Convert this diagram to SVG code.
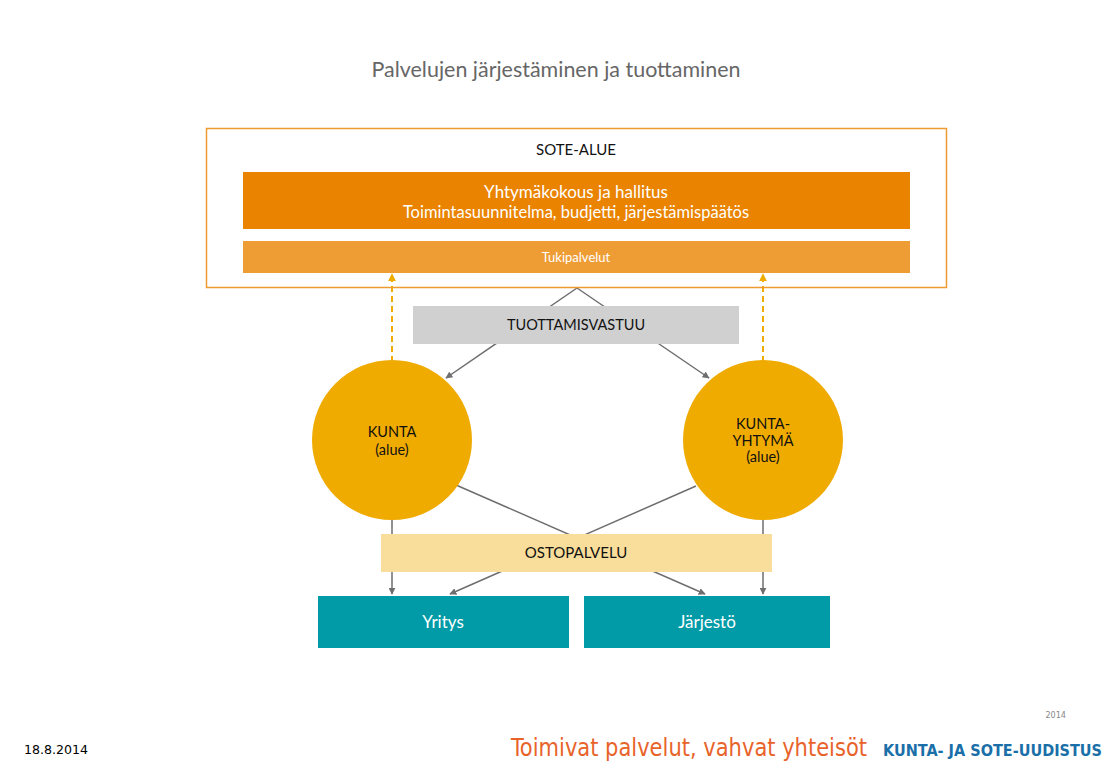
<svg xmlns="http://www.w3.org/2000/svg" width="1116" height="775" viewBox="0 0 1116 775">
<defs>
<style>
.t{font-family:Lato,"Open Sans","Liberation Sans",sans-serif;text-anchor:middle}
.ln{stroke:#6E6E6E;stroke-width:1.5;fill:none}
.dash{stroke:#F0AB00;stroke-width:2;stroke-dasharray:6,4;fill:none}
</style>
<marker id="ag" viewBox="0 0 10 10" refX="9" refY="5" markerWidth="7" markerHeight="7" markerUnits="userSpaceOnUse" orient="auto"><path d="M0,0 L10,5 L0,10 z" fill="#6E6E6E"/></marker>
<marker id="ao" viewBox="0 0 10 10" refX="9" refY="5" markerWidth="8" markerHeight="8" markerUnits="userSpaceOnUse" orient="auto"><path d="M0,0 L10,5 L0,10 z" fill="#F0AB00"/></marker>
</defs>
<rect width="1116" height="775" fill="#FFFFFF"/>
<text class="t" x="556" y="77" font-size="21" fill="#666666" textLength="369" lengthAdjust="spacingAndGlyphs">Palvelujen järjestäminen ja tuottaminen</text>

<g id="connectors">
<line class="ln" x1="577" y1="288" x2="446" y2="378" marker-end="url(#ag)"/>
<line class="ln" x1="577" y1="288" x2="709" y2="378" marker-end="url(#ag)"/>
<line class="ln" x1="456" y1="485" x2="705" y2="594" marker-end="url(#ag)"/>
<line class="ln" x1="696" y1="486" x2="450" y2="594" marker-end="url(#ag)"/>
<line class="ln" x1="392" y1="515" x2="392" y2="594" marker-end="url(#ag)"/>
<line class="ln" x1="763" y1="515" x2="763" y2="594" marker-end="url(#ag)"/>
<line class="dash" x1="392" y1="362" x2="392" y2="274" marker-end="url(#ao)"/>
<line class="dash" x1="763" y1="362" x2="763" y2="274" marker-end="url(#ao)"/>
</g>

<g id="sote-alue">
<rect x="206.5" y="128.5" width="740" height="159" fill="none" stroke="#EE9A32" stroke-width="1.5"/>
<text class="t" x="576" y="155" font-size="15" fill="#111111">SOTE-ALUE</text>
</g>
<g id="yhtymakokous">
<rect x="243" y="172" width="667" height="57" fill="#E98300"/>
<text class="t" x="576" y="198" font-size="17" fill="#FFFFFF">Yhtymäkokous ja hallitus</text>
<text class="t" x="576" y="218" font-size="16.5" fill="#FFFFFF">Toimintasuunnitelma, budjetti, järjestämispäätös</text>
</g>
<g id="tukipalvelut">
<rect x="243" y="241" width="667" height="32" fill="#EE9D35"/>
<text class="t" x="576" y="262" font-size="13" fill="#FFFFFF">Tukipalvelut</text>
</g>
<g id="tuottamisvastuu">
<rect x="413" y="306" width="326" height="38" fill="#D0D0D0"/>
<text class="t" x="576" y="330" font-size="14.5" fill="#111111">TUOTTAMISVASTUU</text>
</g>
<g id="kunta">
<circle cx="392" cy="440" r="80" fill="#F0AB00"/>
<text class="t" x="392" y="437" font-size="14.5" fill="#111111">KUNTA</text>
<text class="t" x="392" y="455" font-size="14.5" fill="#111111">(alue)</text>
</g>
<g id="kuntayhtyma">
<circle cx="763" cy="440" r="80" fill="#F0AB00"/>
<text class="t" x="763" y="429" font-size="14.5" fill="#111111">KUNTA-</text>
<text class="t" x="763" y="446" font-size="14.5" fill="#111111">YHTYMÄ</text>
<text class="t" x="763" y="462" font-size="14.5" fill="#111111">(alue)</text>
</g>
<g id="ostopalvelu">
<rect x="381" y="534" width="391" height="38" fill="#F9DD9A"/>
<text class="t" x="576" y="558" font-size="15" fill="#111111">OSTOPALVELU</text>
</g>
<g id="yritys">
<rect x="318" y="596" width="251" height="52" fill="#009BA6"/>
<text class="t" x="443" y="628" font-size="17" fill="#FFFFFF">Yritys</text>
</g>
<g id="jarjesto">
<rect x="584" y="596" width="246" height="52" fill="#009BA6"/>
<text class="t" x="707" y="628" font-size="17" fill="#FFFFFF">Järjestö</text>
</g>

<g id="footer">
<text x="1066" y="718" font-family="'DejaVu Sans Condensed','DejaVu Sans',sans-serif" font-size="9" fill="#8A8A8A" text-anchor="end">2014</text>
<text x="24" y="754" font-family="'DejaVu Sans Condensed','DejaVu Sans',sans-serif" font-size="12.5" fill="#000000" textLength="64" lengthAdjust="spacingAndGlyphs">18.8.2014</text>
<text x="511" y="756" font-family="'DejaVu Sans Condensed','DejaVu Sans',sans-serif" font-size="25" fill="#E8632A" textLength="356" lengthAdjust="spacingAndGlyphs">Toimivat palvelut, vahvat yhteisöt</text>
<text x="883" y="756" font-family="'DejaVu Sans Condensed','DejaVu Sans',sans-serif" font-weight="bold" font-size="16" fill="#1A6FA8" textLength="219" lengthAdjust="spacingAndGlyphs">KUNTA- JA SOTE-UUDISTUS</text>
</g>
</svg>
